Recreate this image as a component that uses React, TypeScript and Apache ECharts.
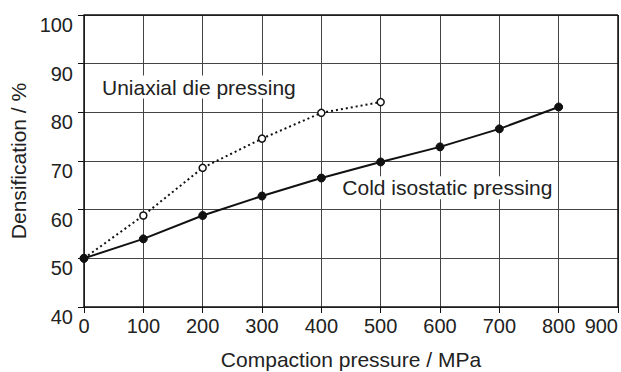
import React, { useEffect, useRef } from "react";
import * as echarts from "echarts";

const pressureUniaxial = [0, 100, 200, 300, 400, 500];
const densUniaxial = [50, 58.8, 68.6, 74.6, 79.9, 82.1];
const pressureCIP = [0, 100, 200, 300, 400, 500, 600, 700, 800];
const densCIP = [50, 54, 58.8, 62.8, 66.5, 69.8, 72.9, 76.6, 81.1];
const labelUniaxial = { text: "Uniaxial die pressing", at: [27, 85.2] };
const labelCIP = { text: "Cold isostatic pressing", at: [432, 64.5] };

export default function App() {
  const ref = useRef<HTMLDivElement>(null);
  useEffect(() => {
    if (!ref.current) return;
    const chart = echarts.init(ref.current, null, { renderer: "svg" });
    const font = "'Liberation Sans', Arial, sans-serif";
    const zip = (xs: number[], ys: number[]) => xs.map((x, i) => [x, ys[i]]);
    const textLabel = (t: { text: string; at: number[] }) => ({
      coord: t.at,
      symbol: "circle",
      symbolSize: 0,
      label: {
        show: true,
        position: "right",
        distance: 0,
        formatter: t.text,
        color: "#222",
        fontSize: 21,
        fontFamily: font,
        backgroundColor: "#fff",
        padding: [1, 2, 1, 2],
      },
    });
    chart.setOption({
      animation: false,
      backgroundColor: "#fff",
      grid: {
        left: 84,
        right: 3,
        top: 15,
        bottom: 65,
        show: false,
        containLabel: false,
        outerBoundsMode: "none",
      },
      xAxis: {
        type: "value",
        min: 0,
        max: 900,
        interval: 100,
        name: "Compaction pressure / MPa",
        nameLocation: "middle",
        nameGap: 42,
        nameTextStyle: { fontSize: 21, color: "#222", fontFamily: font },
        axisLine: { show: true, onZero: false, lineStyle: { color: "#111", width: 1.5 } },
        axisTick: { show: true, inside: false, length: 6, lineStyle: { color: "#111" } },
        axisLabel: {
          fontSize: 20,
          color: "#222",
          fontFamily: font,
          margin: 9,
          alignMaxLabel: "right",
        },
        splitLine: { show: true, lineStyle: { color: "#444", width: 1 } },
      },
      yAxis: {
        type: "value",
        min: 40,
        max: 100,
        interval: 10,
        name: "Densification / %",
        nameLocation: "middle",
        nameGap: 51,
        nameTextStyle: { fontSize: 21, color: "#222", fontFamily: font },
        axisLine: { show: true, onZero: false, lineStyle: { color: "#111", width: 1.5 } },
        axisTick: { show: true, inside: false, length: 6, lineStyle: { color: "#111" } },
        axisLabel: {
          fontSize: 20,
          color: "#222",
          fontFamily: font,
          margin: 11,
          verticalAlign: "top",
        },
        splitLine: { show: true, lineStyle: { color: "#444", width: 1 } },
      },
      series: [
        {
          type: "line",
          name: "Uniaxial die pressing",
          data: zip(pressureUniaxial, densUniaxial),
          symbol: "circle",
          symbolSize: 7,
          lineStyle: { color: "#111", width: 2, type: [2, 3] },
          itemStyle: { color: "#fff", borderColor: "#111", borderWidth: 1.5 },
          z: 3,
          markPoint: { data: [textLabel(labelUniaxial)], silent: true },
        },
        {
          type: "line",
          name: "Cold isostatic pressing",
          data: zip(pressureCIP, densCIP),
          symbol: "circle",
          symbolSize: 8,
          lineStyle: { color: "#111", width: 2 },
          itemStyle: { color: "#111", borderColor: "#111", borderWidth: 1 },
          z: 4,
          markPoint: { data: [textLabel(labelCIP)], silent: true },
        },
        {
          type: "line",
          data: [],
          markLine: {
            silent: true,
            symbol: "none",
            label: { show: false },
            lineStyle: { color: "#111", width: 1.5, type: "solid" },
            data: [{ yAxis: 100 }, { xAxis: 900 }],
          },
        },
      ],
    });
    return () => chart.dispose();
  }, []);
  return (
    <div
      ref={ref}
      style={{ position: "fixed", left: 0, top: 0, width: 621, height: 372 }}
    />
  );
}
